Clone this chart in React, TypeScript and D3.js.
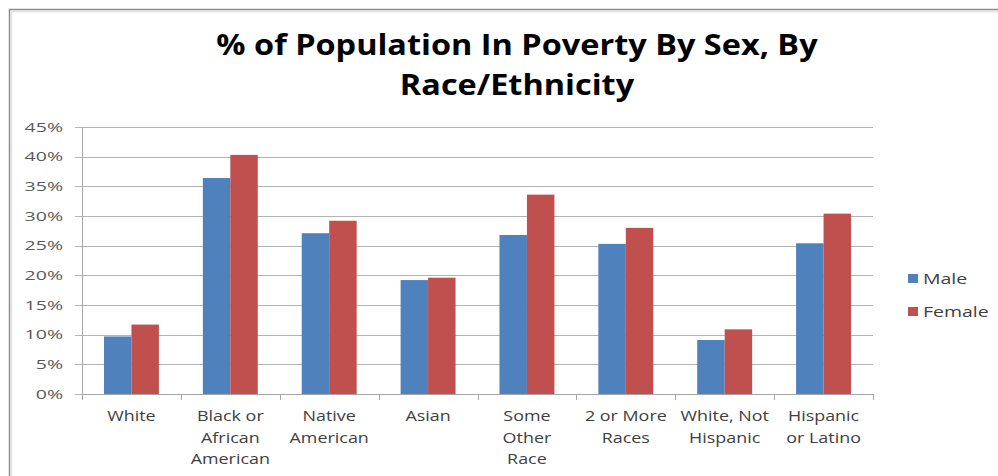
import React from "react";
import * as d3 from "d3";

const categories = [
  ["White"],
  ["Black or", "African", "American"],
  ["Native", "American"],
  ["Asian"],
  ["Some", "Other", "Race"],
  ["2 or More", "Races"],
  ["White, Not", "Hispanic"],
  ["Hispanic", "or Latino"],
];
const categoryKeys = categories.map((c) => c.join(" "));
const maleValues = [9.7, 36.4, 27.1, 19.2, 26.8, 25.3, 9.1, 25.4];
const femaleValues = [11.7, 40.3, 29.2, 19.6, 33.6, 28.0, 10.9, 30.4];
const seriesNames = ["Male", "Female"];
const yTicks = [0, 5, 10, 15, 20, 25, 30, 35, 40, 45];
const title = ["% of Population In Poverty By Sex, By", "Race/Ethnicity"];

const W = 998;
const H = 476;
const colors = ["#4f81bd", "#c0504d"];
const FONT = "'Open Sans', sans-serif";

function SText({ x, y, sx = 1.3, anchor = "middle", size = 14, weight = 400, fill = "#404040", children }: any) {
  return (
    <text
      transform={`translate(${x},${y}) scale(${sx},1)`}
      textAnchor={anchor}
      fontFamily={FONT}
      fontSize={size}
      fontWeight={weight}
      fill={fill}
    >
      {children}
    </text>
  );
}

export default function App() {
  const left = 82;
  const right = 873;
  const top = 127;
  const bottom = 394;

  const x = d3.scaleBand<string>().domain(categoryKeys).range([left, right]).paddingInner(0).paddingOuter(0);
  const inner = d3.scaleBand<string>().domain(seriesNames).range([0, x.bandwidth()]).paddingInner(0).paddingOuter(0.8);
  const y = d3.scaleLinear().domain([0, 45]).range([bottom, top]);
  const series = [maleValues, femaleValues];

  return (
    <svg width={W} height={H} style={{ position: "absolute", left: 0, top: 0, background: "#fff" }}>
      <rect x={0} y={0} width={W} height={H} fill="#fff" />
      <rect x={9.5} y={9.5} width={1000} height={480} fill="#fff" stroke="#8c8c8c" strokeWidth={1.5} />
      <rect x={11.5} y={11.5} width={1000} height={480} fill="none" stroke="#e0e0e0" strokeWidth={1.5} />

      {title.map((t, i) => (
        <SText key={i} x={517} y={55 + i * 40} sx={1.12} size={29} weight={700} fill="#000">
          {t}
        </SText>
      ))}

      {yTicks.map((t) => (
        <g key={t}>
          <line x1={left - 7} x2={right} y1={Math.round(y(t)) + 0.5} y2={Math.round(y(t)) + 0.5} stroke="#b3b3b3" strokeWidth={1} />
          <SText x={63} y={y(t) + 4.5} anchor="end" size={13} sx={1.5} fill="#595959">
            {t}%
          </SText>
        </g>
      ))}
      <line x1={left + 0.5} x2={left + 0.5} y1={top} y2={bottom} stroke="#a6a6a6" />

      {series.map((vals, si) =>
        vals.map((v, ci) => (
          <rect
            key={`${si}-${ci}`}
            x={(x(categoryKeys[ci]) as number) + (inner(seriesNames[si]) as number)}
            y={y(v)}
            width={inner.bandwidth()}
            height={bottom - y(v)}
            fill={colors[si]}
          />
        ))
      )}

      <line x1={left} x2={right} y1={bottom + 0.5} y2={bottom + 0.5} stroke="#a6a6a6" />
      {d3.range(categoryKeys.length + 1).map((i) => {
        const xx = i < categoryKeys.length ? (x(categoryKeys[i]) as number) : right;
        return <line key={i} x1={Math.round(xx) + 0.5} x2={Math.round(xx) + 0.5} y1={bottom} y2={bottom + 6} stroke="#a6a6a6" />;
      })}

      {categories.map((lines, ci) =>
        lines.map((ln, li) => (
          <SText
            key={`${ci}-${li}`}
            x={(x(categoryKeys[ci]) as number) + x.bandwidth() / 2}
            y={421 + li * 21.5}
            size={14}
            sx={1.28}
            fill="#404040"
          >
            {ln}
          </SText>
        ))
      )}

      {seriesNames.map((s, i) => (
        <g key={s}>
          <rect x={908} y={274 + i * 33} width={10} height={9} fill={colors[i]} />
          <SText x={923} y={284 + i * 33} anchor="start" size={15} sx={1.3} fill="#404040">
            {s}
          </SText>
        </g>
      ))}
    </svg>
  );
}
